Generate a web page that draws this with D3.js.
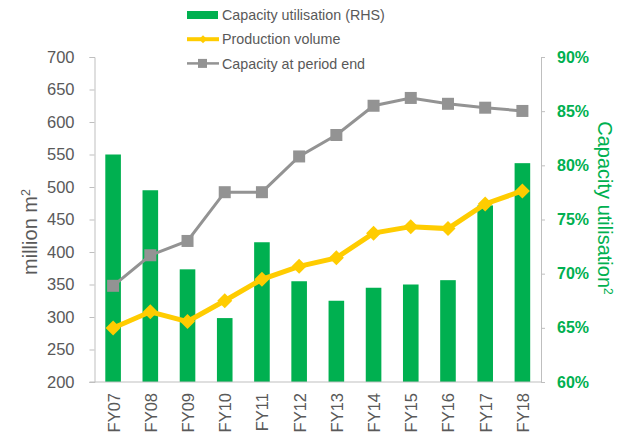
<!DOCTYPE html>
<html>
<head>
<meta charset="UTF-8">
<script src="https://cdn.jsdelivr.net/npm/d3@7"></script>
<style>
body { margin: 0; background: #fff; }
svg { display: block; font-family: "Liberation Sans", Arial, sans-serif; }
.axis path, .axis line { stroke: #bfbfbf; }
.lefttick text { fill: #595959; font-size: 16.5px; }
.righttick text { fill: #00b050; font-size: 16px; font-weight: bold; }
.xlab text { fill: #595959; font-size: 16.5px; }
.legend text { fill: #595959; font-size: 14.3px; }
</style>
</head>
<body>
<svg id="chart" width="617" height="436"></svg>
<script>
// data
var years = ["FY07","FY08","FY09","FY10","FY11","FY12","FY13","FY14","FY15","FY16","FY17","FY18"];
var utilisation = [81.0, 77.7, 70.4, 65.9, 72.9, 69.3, 67.5, 68.7, 69.0, 69.4, 76.3, 80.2];
var production = [283, 308, 293, 325, 358, 378, 391, 429, 439, 436, 474, 494];
var capacity = [348, 395, 417, 492, 492, 547, 580, 625, 637, 628, 622, 617];
var leftTicks = [200, 250, 300, 350, 400, 450, 500, 550, 600, 650, 700];
var rightTicks = [60, 65, 70, 75, 80, 85, 90];

var green = "#00b050", yellow = "#ffcc00", grey = "#939393";
var plotL = 94.5, plotR = 541, plotT = 57, plotB = 382;

var svg = d3.select("#chart");

var xc = d3.scalePoint().domain(years).range([plotL, plotR]).padding(0.5);
var yl = d3.scaleLinear().domain([200, 700]).range([plotB, plotT]);
var yr = d3.scaleLinear().domain([60, 90]).range([plotB, plotT]);

// bars
svg.append("g").selectAll("rect")
  .data(utilisation)
  .join("rect")
  .attr("x", function(d, i){ return xc(years[i]) - 7.8; })
  .attr("width", 15.6)
  .attr("y", function(d){ return yr(d); })
  .attr("height", function(d){ return plotB - yr(d); })
  .attr("fill", green);

// axes
svg.append("g")
  .attr("class", "axis lefttick")
  .attr("transform", "translate(" + plotL + ",0)")
  .call(d3.axisLeft(yl).tickValues(leftTicks).tickSize(5).tickSizeOuter(5).tickPadding(15));

svg.append("g")
  .attr("class", "axis righttick")
  .attr("transform", "translate(" + plotR + ",0)")
  .call(d3.axisRight(yr).tickValues(rightTicks).tickSize(4).tickSizeOuter(4).tickPadding(12).tickFormat(function(d){ return d + "%"; }));

svg.append("line")
  .attr("x1", plotL - 5).attr("x2", plotR)
  .attr("y1", plotB).attr("y2", plotB)
  .attr("stroke", "#bfbfbf");

// x labels
svg.append("g").attr("class", "xlab")
  .selectAll("text")
  .data(years)
  .join("text")
  .attr("transform", function(d){ return "translate(" + (xc(d) + 6.5) + ",393) rotate(-90)"; })
  .attr("text-anchor", "end")
  .text(function(d){ return d; });

// lines
var line = function(ys){
  return d3.line().x(function(d, i){ return xc(years[i]); }).y(function(d){ return yl(d); })(ys);
};
svg.append("path").attr("d", line(capacity)).attr("fill", "none").attr("stroke", grey).attr("stroke-width", 3);
svg.append("g").selectAll("rect")
  .data(capacity)
  .join("rect")
  .attr("x", function(d, i){ return xc(years[i]) - 6; })
  .attr("y", function(d){ return yl(d) - 6; })
  .attr("width", 12).attr("height", 12)
  .attr("fill", grey);

svg.append("path").attr("d", line(production)).attr("fill", "none").attr("stroke", yellow).attr("stroke-width", 5);
svg.append("g").selectAll("path")
  .data(production)
  .join("path")
  .attr("d", "M0,-7.5L7.5,0L0,7.5L-7.5,0Z")
  .attr("transform", function(d, i){ return "translate(" + xc(years[i]) + "," + yl(d) + ")"; })
  .attr("fill", yellow);

// axis titles
svg.append("text")
  .attr("transform", "translate(37,232) rotate(-90)")
  .attr("text-anchor", "middle")
  .attr("fill", "#595959")
  .style("font-size", "20px")
  .html('million m<tspan dy="-7" font-size="12.5">2</tspan>');

svg.append("text")
  .attr("transform", "translate(598,208) rotate(90)")
  .attr("text-anchor", "middle")
  .attr("fill", green)
  .style("font-size", "20px")
  .html('Capacity utilisation<tspan dy="-6" font-size="12">2</tspan>');

// legend
var legend = svg.append("g").attr("class", "legend");
var items = ["Capacity utilisation (RHS)", "Production volume", "Capacity at period end"];
items.forEach(function(name, i){
  var yy = 15 + i * 24.2;
  var g = legend.append("g").attr("transform", "translate(187," + yy + ")");
  if (i === 0) {
    g.append("rect").attr("x", 0).attr("y", -4).attr("width", 31).attr("height", 8).attr("fill", green);
  } else {
    var c = i === 1 ? yellow : grey;
    g.append("line").attr("x1", 0).attr("x2", 32).attr("stroke", c).attr("stroke-width", i === 1 ? 4 : 2.5);
    if (i === 1) g.append("path").attr("d", "M16,-4L20,0L16,4L12,0Z").attr("fill", c);
    else g.append("rect").attr("x", 11).attr("y", -4.5).attr("width", 9).attr("height", 9).attr("fill", c);
  }
  g.append("text").attr("x", 35).attr("dy", "0.36em").text(name);
});
</script>
</body>
</html>
